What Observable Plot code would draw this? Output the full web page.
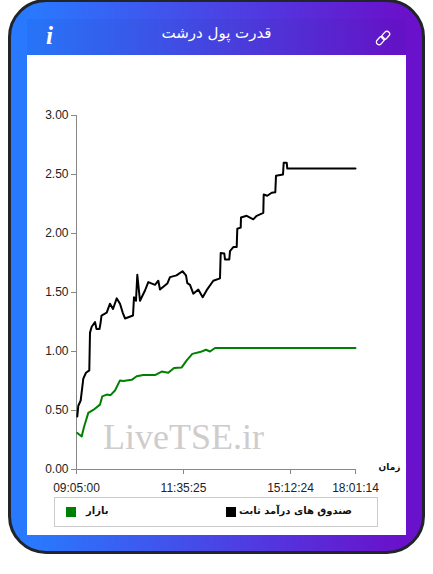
<!DOCTYPE html>
<html><head><meta charset="utf-8">
<script src="https://cdn.jsdelivr.net/npm/d3@7"></script>
<script src="https://cdn.jsdelivr.net/npm/@observablehq/plot@0.6"></script>
<style>
html,body{margin:0;padding:0;background:#fff;width:433px;height:574px;overflow:hidden}
#card{position:absolute;left:8px;top:-1px;width:411px;height:549px;border:3px solid #212529;border-radius:38px;background:linear-gradient(90deg,#2979ff 0%,#2979ff 5%,#6a11cb 95%,#6a11cb 100%)}
#head{position:absolute;left:27px;top:19px;width:379px;height:36px;background:rgba(20,40,120,.06)}
#panel{position:absolute;left:27px;top:55px;width:379px;height:480px;background:#fff}
#chart{position:absolute;left:0;top:0}
#title{position:absolute;left:27px;width:379px;top:24px;text-align:center;color:#fff;font:15px "DejaVu Sans";direction:rtl}
#info{position:absolute;left:46px;top:22px;color:#fff;font:italic bold 25px "Liberation Serif"}
#link{position:absolute;left:375px;top:30px}
#legend{position:absolute;left:54px;top:497px;width:322px;height:28px;border:1px solid #ccc;font:bold 10px "DejaVu Sans";color:#111}
#legend i{position:absolute;top:9px;width:10px;height:10px}
#legend span{position:absolute;top:7px;direction:rtl;white-space:nowrap}
</style></head>
<body>
<div id="card"></div>
<div id="head"></div>
<div id="panel"><div id="chart"></div></div>
<div id="title">قدرت پول درشت</div>
<div id="info">i</div>
<svg id="link" width="16" height="16" viewBox="0 0 16 16" fill="none" stroke="#fff" stroke-width="1.3">
<rect x="8" y="0.8" width="5.4" height="9" rx="2.7" transform="rotate(42 10.7 5.3)"/>
<rect x="2.6" y="6.2" width="5.4" height="9" rx="2.7" transform="rotate(42 5.3 10.7)"/>
</svg>
<div id="legend">
<i style="left:11px;background:#008000"></i><span id="l2" style="left:31px"></span>
<i style="left:171px;background:#000"></i><span id="l1" style="right:25px"></span>
</div>
<script>
const seriesNames = ["صندوق های درآمد ثابت", "بازار"];
const seriesColors = ["#000000", "#008000"];
const timeTicks = [0, 107, 214, 279];
const timeLabels = ["09:05:00", "11:35:25", "15:12:24", "18:01:14"];
const valueTicks = [0, 0.5, 1, 1.5, 2, 2.5, 3];
const fundX = [0.8,1.8,4.2,6.8,9.5,12.8,13.5,15.2,18.5,20,23,24.2,25,30.2,33.5,36.5,40.2,43.5,46.2,48.5,56.5,57.5,59.5,60.8,63.5,68.5,71.8,78.5,81.8,83.5,90.8,93.5,100,106,109.5,110.8,113.5,116.8,121.8,126.2,130.2,136.8,143.5,144.2,147.8,148.5,152.8,153.5,156.8,160.2,160.8,164.2,164.5,170.2,176.8,180.2,186.8,187.2,190.8,195.2,198.8,199.5,206.5,207.2,210.2,210.8,279];
const fundY = [0.45,0.54,0.585,0.77,0.82,0.84,1.16,1.21,1.25,1.19,1.19,1.25,1.305,1.33,1.405,1.36,1.45,1.405,1.33,1.28,1.305,1.46,1.43,1.65,1.43,1.517,1.588,1.565,1.6,1.525,1.576,1.63,1.645,1.68,1.645,1.58,1.565,1.49,1.525,1.46,1.52,1.6,1.62,1.835,1.83,1.78,1.78,1.85,1.885,1.885,2.04,2.05,2.135,2.15,2.12,2.15,2.175,2.33,2.32,2.345,2.35,2.49,2.5,2.6,2.6,2.55,2.55];
const marketX = [0.8,5.2,7.5,11.8,16.8,23.5,25.8,30.2,34,38.5,43.5,46.8,55.2,60.2,66.8,78.5,85.2,91.8,97.5,105.2,110.2,115.8,123.5,129.5,133.5,138.5,279];
const marketY = [0.31,0.28,0.36,0.48,0.505,0.55,0.62,0.635,0.63,0.67,0.755,0.75,0.76,0.79,0.8,0.8,0.83,0.82,0.86,0.865,0.925,0.98,0.995,1.015,1.0,1.03,1.03];
const xAxisLabel = "زمان";
const watermark = "LiveTSE.ir";

document.getElementById("l1").textContent = seriesNames[0];
document.getElementById("l2").textContent = seriesNames[1];

const chart = Plot.plot({
  width: 379, height: 442,
  marginLeft: 49, marginRight: 51, marginTop: 60, marginBottom: 28,
  style: {background: "transparent", overflow: "visible"},
  x: {domain: [0, 279]},
  y: {domain: [0, 3]},
  marks: [
    Plot.text([watermark], {x: () => 107, y: () => 0.27, fontFamily: "Liberation Serif", fontSize: 36, fill: "#cfcccc"}),
    Plot.ruleX([0], {stroke: "#888"}),
    Plot.ruleY([0], {stroke: "#888"}),
    Plot.axisX({ticks: timeTicks, tickFormat: (d) => timeLabels[timeTicks.indexOf(d)], tickSize: 5, tickPadding: 9, stroke: "#888", fontSize: 12, fontFamily: "Liberation Sans", color: "#222", label: null}),
    Plot.axisY({ticks: valueTicks, tickFormat: d3.format(".2f"), tickSize: 5, tickPadding: 3, stroke: "#888", fontSize: 12, fontFamily: "Liberation Sans", color: "#222", label: null}),
    Plot.line(marketY, {x: (d, i) => marketX[i], y: (d) => d, stroke: seriesColors[1], strokeWidth: 2}),
    Plot.line(fundY, {x: (d, i) => fundX[i], y: (d) => d, stroke: seriesColors[0], strokeWidth: 2}),
    Plot.text([xAxisLabel], {x: () => 279, y: () => 0, dx: 34, dy: -2, fontFamily: "DejaVu Sans", fontWeight: "bold", fontSize: 9, fill: "#111"})
  ]
});
document.getElementById("chart").append(chart);
</script>
</body></html>
